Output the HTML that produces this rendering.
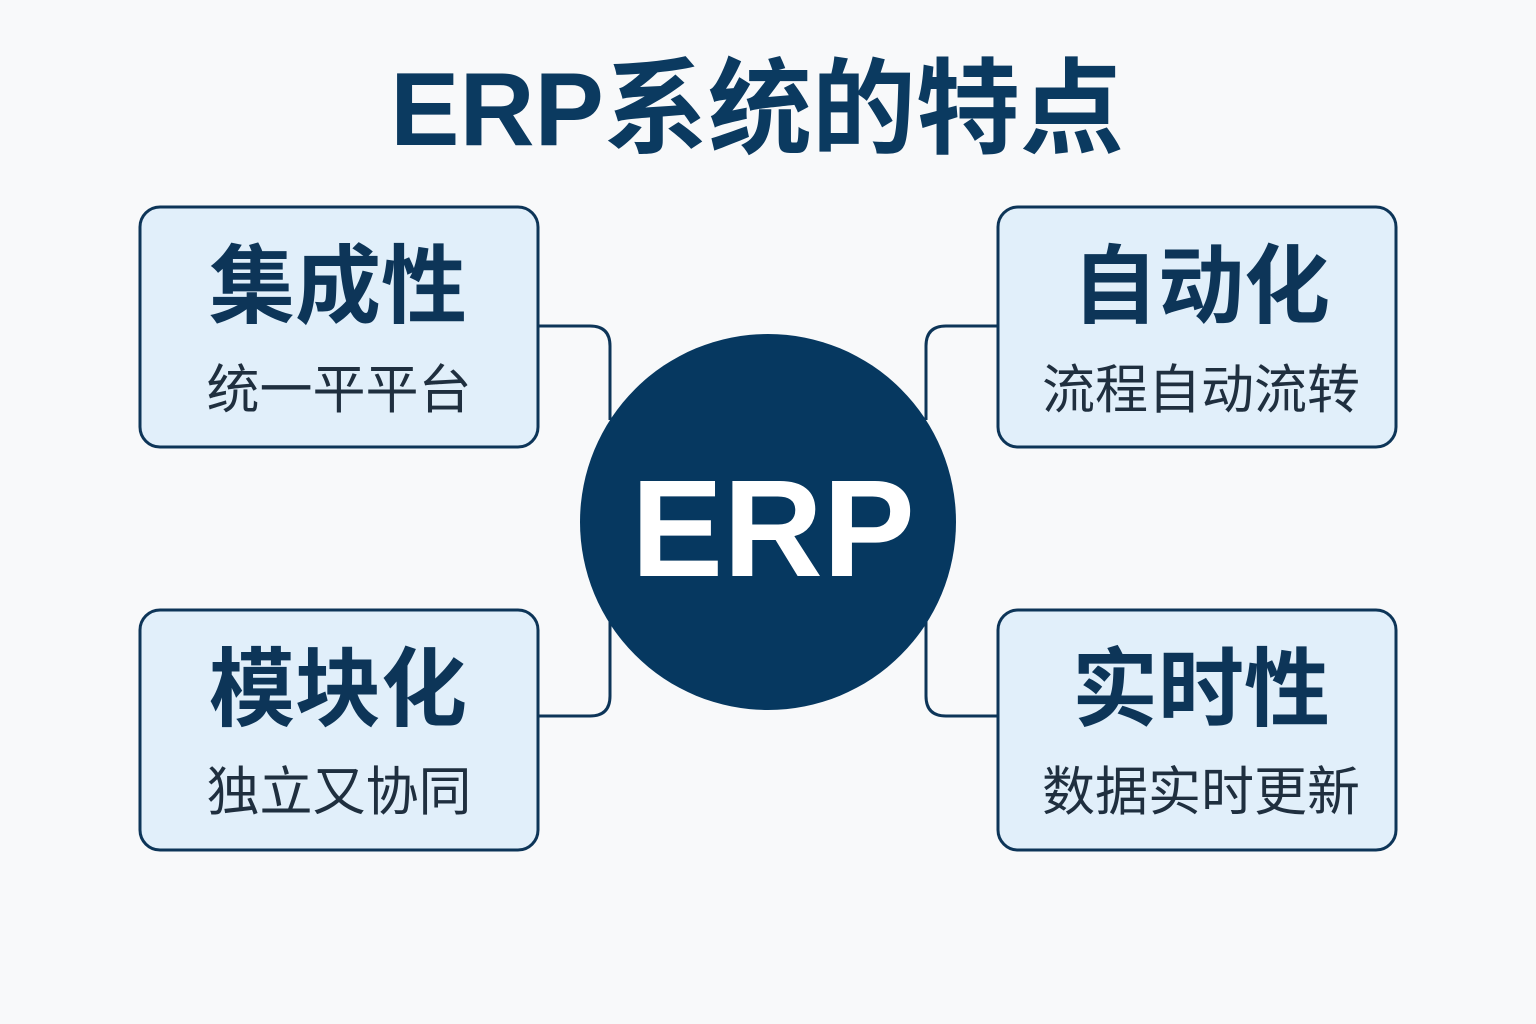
<!DOCTYPE html>
<html><head><meta charset="utf-8"><style>
html,body{margin:0;padding:0;background:#f8f9fa;width:1536px;height:1024px;overflow:hidden;font-family:"Liberation Sans","Noto Sans CJK SC",sans-serif;}
</style></head><body>
<svg width="1536" height="1024" viewBox="0 0 1536 1024" xmlns="http://www.w3.org/2000/svg">
<rect width="1536" height="1024" fill="#f8f9fa"/>
<text x="757" y="145" text-anchor="middle" font-family="Liberation Sans,Noto Sans CJK SC,sans-serif" font-weight="bold" font-size="104" fill="#0b3a60">ERP系统的特点</text>
<g fill="none" stroke="#0d3558" stroke-width="3">
<path d="M537 326 H590 Q610 326 610 346 V420"/>
<path d="M537 716 H590 Q610 716 610 696 V620"/>
<path d="M999 326 H946 Q926 326 926 346 V420"/>
<path d="M999 716 H946 Q926 716 926 696 V620"/>
</g>
<g fill="#e1effa" stroke="#0d3558" stroke-width="3">
<rect x="140" y="207" width="398" height="240" rx="20"/>
<rect x="140" y="610" width="398" height="240" rx="20"/>
<rect x="998" y="207" width="398" height="240" rx="20"/>
<rect x="998" y="610" width="398" height="240" rx="20"/>
</g>
<circle cx="768" cy="522" r="188" fill="#063860"/>
<text x="773" y="576" text-anchor="middle" font-family="Liberation Sans,sans-serif" font-weight="bold" font-size="138" fill="#ffffff">ERP</text>
<g font-family="Liberation Sans,Noto Sans CJK SC,sans-serif" fill="#0d3558" text-anchor="middle">
<text x="338" y="316" font-size="86" font-weight="bold">集成性</text>
<text x="339" y="408" font-size="53" fill="#1f2f3f">统一平平台</text>
<text x="338" y="719" font-size="86" font-weight="bold">模块化</text>
<text x="339" y="810" font-size="53" fill="#1f2f3f">独立又协同</text>
<text x="1201" y="316" font-size="86" font-weight="bold">自动化</text>
<text x="1201" y="408" font-size="53" fill="#1f2f3f">流程自动流转</text>
<text x="1201" y="719" font-size="86" font-weight="bold">实时性</text>
<text x="1201" y="810" font-size="53" fill="#1f2f3f">数据实时更新</text>
</g>
</svg>
</body></html>
